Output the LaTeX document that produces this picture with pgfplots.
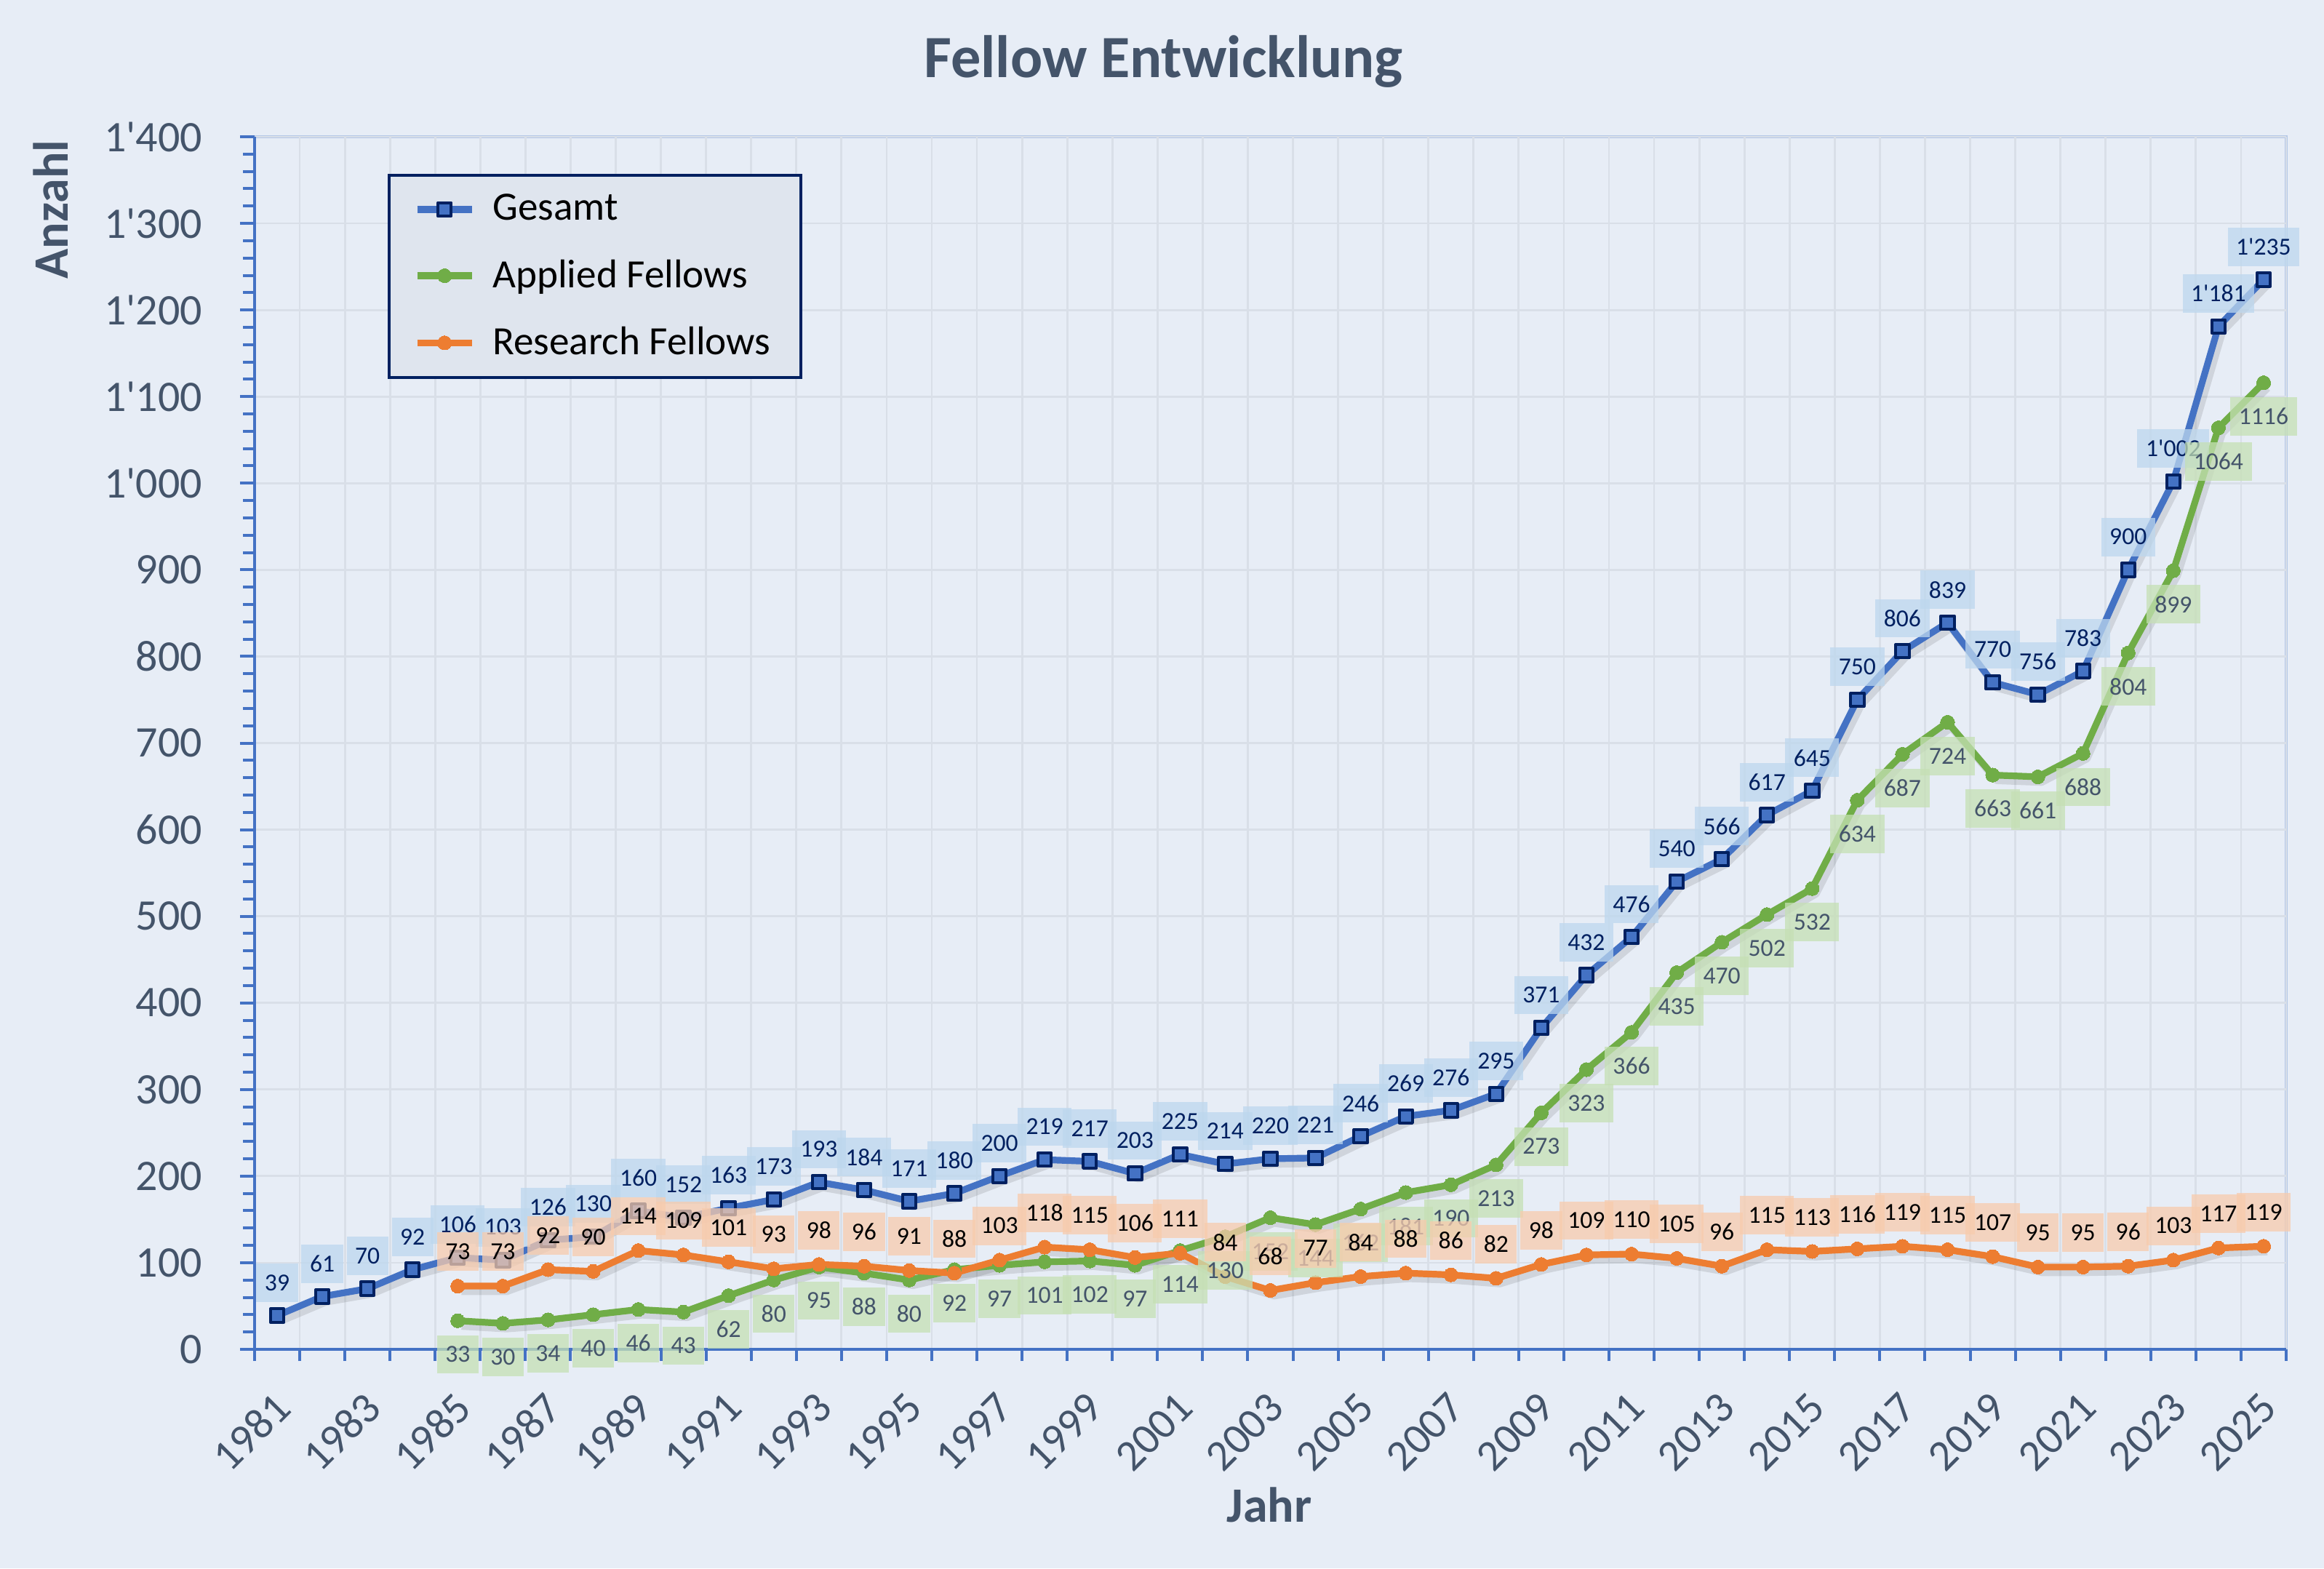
\documentclass[border=0pt]{standalone}
\usepackage{fontspec}
\setmainfont{Carlito}[Ligatures=TeXOff]
\usepackage{pgfplots}
\usepackage{pgfplotstable}
\pgfplotsset{compat=1.18}
\definecolor{bg}{HTML}{E7EDF6}
\definecolor{gridc}{HTML}{D9DFE8}
\definecolor{axisblue}{HTML}{4472C4}
\definecolor{borderlight}{HTML}{B4C7E7}
\definecolor{ticktext}{HTML}{44546A}
\definecolor{navy}{HTML}{002060}
\definecolor{cgreen}{HTML}{70AD47}
\definecolor{corange}{HTML}{ED7D31}
\definecolor{bluebox}{HTML}{BDD7EE}
\definecolor{orangebox}{HTML}{F8CBAD}
\definecolor{greenbox}{HTML}{C5E0B4}
\definecolor{legendbg}{HTML}{DFE5EE}

\pgfplotstableread{
x y
0 39
1 61
2 70
3 92
4 106
5 103
6 126
7 130
8 160
9 152
10 163
11 173
12 193
13 184
14 171
15 180
16 200
17 219
18 217
19 203
20 225
21 214
22 220
23 221
24 246
25 269
26 276
27 295
28 371
29 432
30 476
31 540
32 566
33 617
34 645
35 750
36 806
37 839
38 770
39 756
40 783
41 900
42 1002
43 1181
44 1235
}\gesamt

\pgfplotstableread{
x y
4 33
5 30
6 34
7 40
8 46
9 43
10 62
11 80
12 95
13 88
14 80
15 92
16 97
17 101
18 102
19 97
20 114
21 130
22 152
23 144
24 162
25 181
26 190
27 213
28 273
29 323
30 366
31 435
32 470
33 502
34 532
35 634
36 687
37 724
38 663
39 661
40 688
41 804
42 899
43 1064
44 1116
}\applied

\pgfplotstableread{
x y
4 73
5 73
6 92
7 90
8 114
9 109
10 101
11 93
12 98
13 96
14 91
15 88
16 103
17 118
18 115
19 106
20 111
21 84
22 68
23 77
24 84
25 88
26 86
27 82
28 98
29 109
30 110
31 105
32 96
33 115
34 113
35 116
36 119
37 115
38 107
39 95
40 95
41 96
42 103
43 117
44 119
}\research

\pgfplotsset{
  /pgf/number format/assume math mode=true,
  lbl/.style={draw=none, no marks, forget plot,
    every node near coord/.append style={font=\fontsize{8.4}{10}\selectfont,
      fill opacity=0.75, text opacity=1, inner xsep=2.9pt, inner ysep=0pt,
      minimum height=13.2pt}},
  shadow/.style={forget plot, no marks, draw=black, opacity=0.1,
    line width=2.6pt, line join=round, xshift=1.3pt, yshift=-1.8pt},
}

\begin{document}
\begin{tikzpicture}
\fill[bg] (-87.5pt,-75.25pt) rectangle (711.25pt,463.75pt);
\useasboundingbox (-87.5pt,-75.25pt) rectangle (711.25pt,463.75pt);
\begin{axis}[
  at={(0,0)}, anchor=south west,
  scale only axis, width=698.25pt, height=416.75pt,
  xmin=-0.5, xmax=44.5, ymin=0, ymax=1400,
  axis background/.style={fill=bg, draw=borderlight, line width=1pt},
  axis x line*=bottom, axis y line*=left,
  axis line style={-, draw=axisblue, line width=1pt},
  xtick={0,2,...,44},
  xticklabels={1981,1983,1985,1987,1989,1991,1993,1995,1997,1999,2001,2003,2005,2007,2009,2011,2013,2015,2017,2019,2021,2023,2025},
  minor xtick={-0.5,0.5,...,44.5},
  major x tick style={draw=none},
  ytick={0,100,...,1400},
  minor y tick num=4,
  tick align=outside,
  xtick pos=bottom, ytick pos=left,
  major tick length=5pt, minor tick length=4pt,
  tick style={draw=axisblue, line width=1pt},
  xminorgrids, ymajorgrids,
  major grid style={draw=gridc, line width=0.7pt},
  minor grid style={draw=gridc, line width=0.7pt},
  scaled y ticks=false,
  yticklabel style={/pgf/number format/fixed, /pgf/number format/1000 sep={\textquotesingle}},
  ticklabel style={font=\fontsize{15}{18}\selectfont, text=ticktext},
  xticklabel style={xshift=2pt, yshift=-12.5pt, rotate=45, anchor=east, inner sep=0pt},
  yticklabel style={xshift=-12.75pt, inner sep=0pt},
  legend style={at={(0.0655,0.9694)}, anchor=north west,
    draw=navy, line width=1pt, fill=legendbg,
    font=\fontsize{13.8}{16}\selectfont,
    inner xsep=8.5pt, inner ysep=4.5pt, row sep=8pt, column sep=4pt,
    nodes={inner sep=2pt}},
  legend cell align=left,
  legend image code/.code={\draw[mark repeat=2,mark phase=2] plot coordinates {(0pt,0pt) (9.4pt,0pt) (18.8pt,0pt)};},
  clip=false,
]
% shadows
\addplot[shadow] table[x=x,y=y] {\gesamt};
\addplot[shadow] table[x=x,y=y] {\applied};
\addplot[shadow] table[x=x,y=y] {\research};
% lines
\addplot[color=axisblue, line width=2.3pt, line join=round, mark=square*, mark size=2.3pt,
  mark options={fill=axisblue, draw=navy, line width=1pt}] table[x=x,y=y] {\gesamt};
\addlegendentry{Gesamt}
\addplot[color=cgreen, line width=2.3pt, line join=round, mark=*, mark size=2.4pt,
  mark options={fill=cgreen, draw=cgreen, line width=0pt}] table[x=x,y=y] {\applied};
\addlegendentry{Applied Fellows}
\addplot[color=corange, line width=2.3pt, line join=round, mark=*, mark size=2.4pt,
  mark options={fill=corange, draw=corange, line width=0pt}] table[x=x,y=y] {\research};
\addlegendentry{Research Fellows}
% labels
\addplot[lbl, nodes near coords={\pgfmathprintnumber[1000 sep={\textquotesingle}]{\pgfplotspointmeta}},
  every node near coord/.append style={text=navy, fill=bluebox, anchor=south, yshift=4.5pt}]
  table[x=x,y=y] {\gesamt};
\addplot[lbl, nodes near coords={\pgfmathprintnumber[1000 sep={}]{\pgfplotspointmeta}},
  every node near coord/.append style={text=ticktext, fill=greenbox, anchor=north, yshift=-4.75pt}]
  table[x=x,y=y] {\applied};
\addplot[lbl, nodes near coords={\pgfmathprintnumber[1000 sep={}]{\pgfplotspointmeta}},
  every node near coord/.append style={text=black, fill=orangebox, anchor=south, yshift=5pt}]
  table[x=x,y=y] {\research};
\end{axis}
\node[anchor=base, font=\fontsize{20.6}{24}\selectfont\bfseries, text=ticktext] at (312.4pt,437pt) {Fellow Entwicklung};
\node[anchor=base, font=\fontsize{17}{20}\selectfont\bfseries, text=ticktext] at (348.75pt,-59.25pt) {Jahr};
\node[anchor=center, rotate=90, font=\fontsize{17}{20}\selectfont\bfseries, text=ticktext, inner sep=0pt] at (-70pt,391.75pt) {Anzahl};
\end{tikzpicture}
\end{document}
